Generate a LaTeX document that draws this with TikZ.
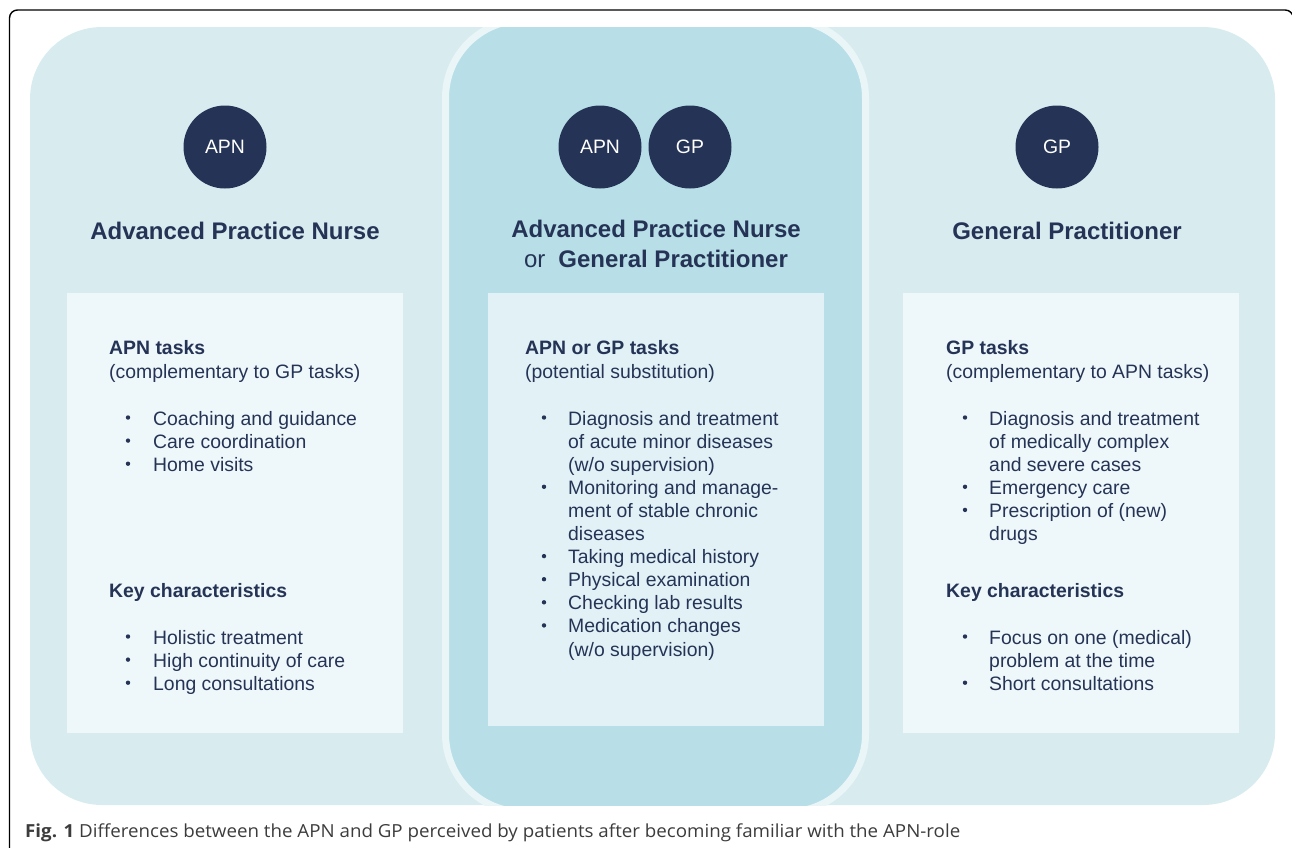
\documentclass[tikz,border=0pt]{standalone}
\usepackage{fontspec}
\usepackage{graphicx}
\setmainfont{Liberation Sans}
\newfontfamily\capfont{Open Sans}
\definecolor{bgblue}{HTML}{D8ECF0}
\definecolor{ringblue}{HTML}{EAF5F8}
\definecolor{midblue}{HTML}{B8DFE7}
\definecolor{sidebox}{HTML}{EEF7F9}
\definecolor{midbox}{HTML}{E2F1F5}
\definecolor{navy}{HTML}{253456}
\definecolor{capgray}{HTML}{3C3C3C}
\newcommand{\bodyfont}{\fontsize{19.4}{23.1}\selectfont}
\newcommand{\titlefont}{\fontsize{24}{30}\selectfont\bfseries}
\tikzset{
  txt/.style={anchor=base west, inner sep=0pt, text=navy, font=\bodyfont},
  head/.style={txt, font=\bodyfont\bfseries},
  ttl/.style={anchor=base, inner sep=0pt, text=navy, font=\titlefont},
  bul/.style={circle, fill=navy, inner sep=0pt, minimum size=4.4pt},
  badge/.style={circle, fill=navy, inner sep=0pt, minimum size=83pt, text=white, font=\bodyfont},
}
\begin{document}
\begin{tikzpicture}[x=1pt, y=-1pt]
\useasboundingbox (0,0) rectangle (1292,847);
\clip (0,0) rectangle (1292,847);
% outer frame
\draw[line width=1.4pt, rounded corners=8pt] (9.5,900) -- (9.5,10) -- (1293.2,10) -- (1293.2,900);
% background
\fill[bgblue, rounded corners=72pt] (30,27) rectangle (1275,805);
% center panel
\begin{scope}
  \clip (0,27) rectangle (1292,805);
  \draw[fill=midblue, draw=ringblue, line width=7pt, rounded corners=78pt] (445.5,20) rectangle (865.5,812);
\end{scope}
% inner boxes
\fill[sidebox] (67,293) rectangle (403,733);
\fill[midbox] (488,293) rectangle (824,726);
\fill[sidebox] (903,293) rectangle (1239,733);
% badges
\node[badge] (b1) at (225,147) {APN};
\node[badge] (b2) at (600,147) {APN};
\node[badge] (b3) at (690,147) {GP};
\node[badge] (b4) at (1057,147) {GP};
% titles
\node[ttl] (t1) at (235,239) {Advanced Practice Nurse};
\node[ttl] (t2) at (656,237) {Advanced Practice Nurse};
\node[ttl] (t3) at (656,267) {\mdseries or\hspace{13pt}\bfseries General Practitioner};
\node[ttl] (t4) at (1067,239) {General Practitioner};
% left panel
\node[head] (L1) at (109,354) {APN tasks};
\node[txt] (L2) at (109,378) {(complementary to GP tasks)};
\node[txt] (L3) at (153,425) {Coaching and guidance};
\node[txt] (L4) at (153,448.1) {Care coordination};
\node[txt] (L5) at (153,471.2) {Home visits};
\node[head] (L6) at (109,597) {Key characteristics};
\node[txt] (L7) at (153,644) {Holistic treatment};
\node[txt] (L8) at (153,667.1) {High continuity of care};
\node[txt] (L9) at (153,690.2) {Long consultations};
\foreach \yy [count=\i] in {425,448.1,471.2,644,667.1,690.2}
  \node[bul] (LB\i) at (128,\yy-7.5) {};
% center panel
\node[head] (C1) at (525,354) {APN or GP tasks};
\node[txt] (C2) at (525,378) {(potential substitution)};
\node[txt] (C3) at (568,425) {Diagnosis and treatment};
\node[txt] (C4) at (568,448.1) {of acute minor diseases};
\node[txt] (C5) at (568,471.2) {(w/o supervision)};
\node[txt] (C6) at (568,494.3) {Monitoring and manage-};
\node[txt] (C7) at (568,517.4) {ment of stable chronic};
\node[txt] (C8) at (568,540.5) {diseases};
\node[txt] (C9) at (568,563.6) {Taking medical history};
\node[txt] (C10) at (568,586.7) {Physical examination};
\node[txt] (C11) at (568,609.8) {Checking lab results};
\node[txt] (C12) at (568,632.9) {Medication changes};
\node[txt] (C13) at (568,656) {(w/o supervision)};
\foreach \yy [count=\i] in {425,494.3,563.6,586.7,609.8,632.9}
  \node[bul] (CB\i) at (544,\yy-7.5) {};
% right panel
\node[head] (R1) at (946,354) {GP tasks};
\node[txt] (R2) at (946,378) {(complementary to APN tasks)};
\node[txt] (R3) at (989,425) {Diagnosis and treatment};
\node[txt] (R4) at (989,448.1) {of medically complex};
\node[txt] (R5) at (989,471.2) {and severe cases};
\node[txt] (R6) at (989,494.3) {Emergency care};
\node[txt] (R7) at (989,517.4) {Prescription of (new)};
\node[txt] (R8) at (989,540.5) {drugs};
\node[head] (R9) at (946,597) {Key characteristics};
\node[txt] (R10) at (989,644) {Focus on one (medical)};
\node[txt] (R11) at (989,667.1) {problem at the time};
\node[txt] (R12) at (989,690.2) {Short consultations};
\foreach \yy [count=\i] in {425,494.3,517.4,644,690.2}
  \node[bul] (RB\i) at (965,\yy-7.5) {};
% caption
\node[anchor=base west, inner sep=0pt, text=capgray] (cap) at (25,837)
  {\resizebox{935pt}{\height}{\capfont\fontsize{18}{20}\selectfont\textbf{Fig. 1} Differences between the APN and GP perceived by patients after becoming familiar with the APN-role}};
\end{tikzpicture}
\end{document}
